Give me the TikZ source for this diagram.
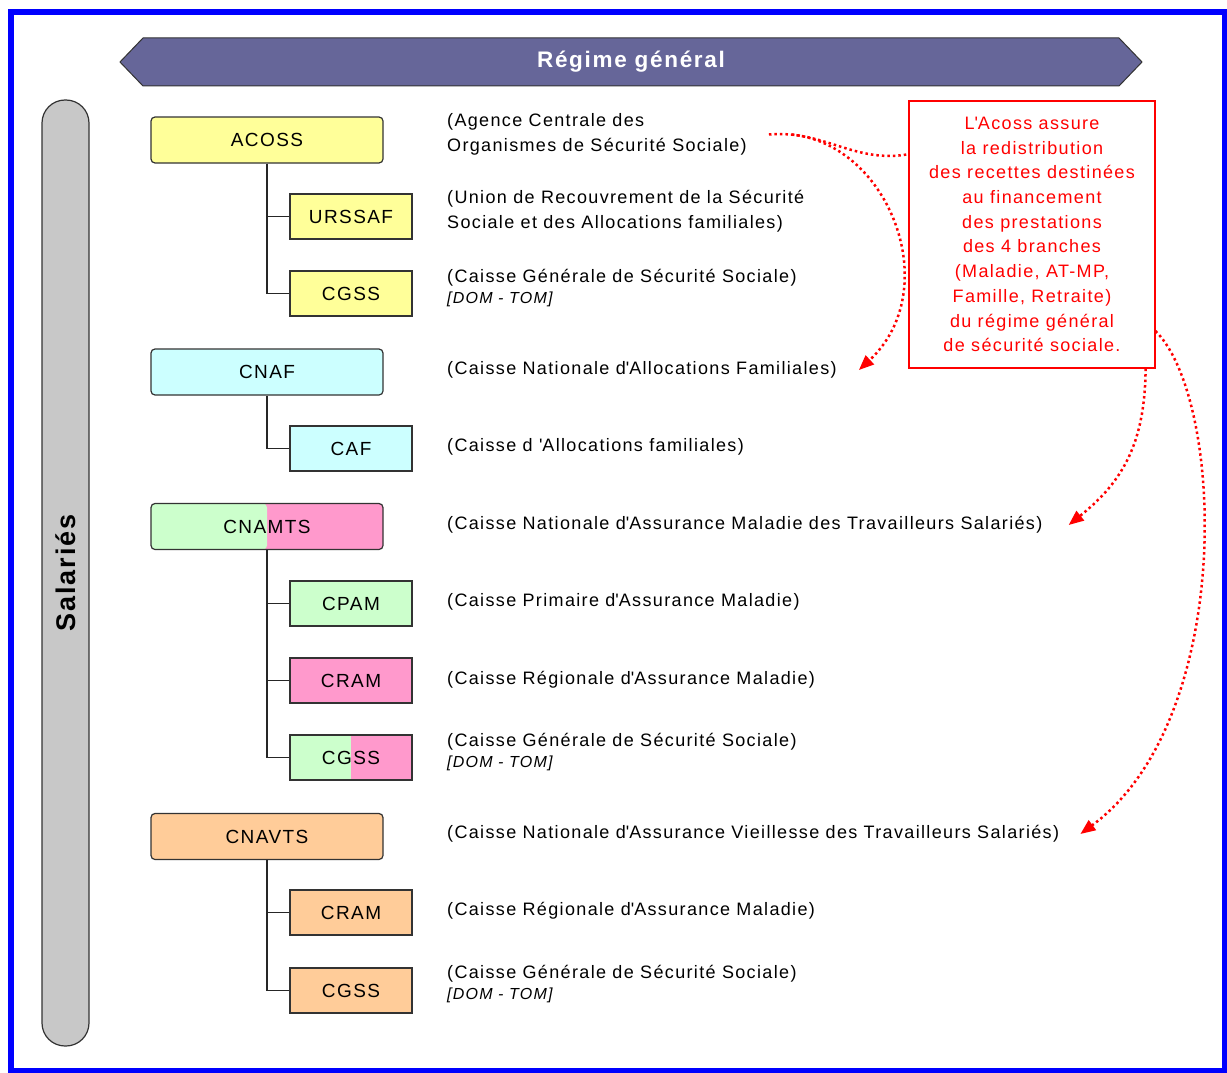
\documentclass[tikz,border=0pt]{standalone}
\usepackage{fontspec}
\setmainfont{Liberation Sans}[LetterSpace=7.5]
\usetikzlibrary{arrows.meta}

\definecolor{jaune}{HTML}{FFFF99}
\definecolor{ciel}{HTML}{CCFFFF}
\definecolor{vert}{HTML}{CCFFCC}
\definecolor{rose}{HTML}{FF99CC}
\definecolor{abricot}{HTML}{FFCC99}
\definecolor{bandeau}{HTML}{666699}
\definecolor{gris}{HTML}{C8C8C8}
\newcommand{\ap}{\textquotesingle}

\begin{document}
\begin{tikzpicture}[x=1pt, y=-1pt, font=\fontsize{18}{25}\selectfont,
  >={Triangle[length=15pt,width=12pt]},
  tete/.style={draw=black!80, line width=1.2pt, rounded corners=4pt, inner sep=0pt,
    minimum width=232pt, minimum height=46pt, font=\fontsize{19}{23}\selectfont},
  fille/.style={draw=black!80, line width=1.2pt, inner sep=0pt,
    minimum width=122pt, minimum height=45pt, font=\fontsize{19}{23}\selectfont},
  mixte/.style={fill=rose, path picture={\fill[vert] (path picture bounding box.south west) rectangle (path picture bounding box.north);}},
  desc/.style={anchor=west, align=left, inner sep=0pt},
  lien/.style={red, line width=2.5pt, dash pattern=on 2.5pt off 3pt},
  branche/.style={black!85, line width=1.2pt}]
\useasboundingbox (0,0) rectangle (1227,1073);
\draw[blue, line width=5.5pt] (11,12) rectangle (1224.5,1070.5);

% bandeau et colonne
\fill[bandeau, draw=black!80, line width=1pt] (120,62) -- (143,38) -- (1119,38) -- (1142,62) -- (1119,86) -- (143,86) -- cycle;
\node[text=white, font=\fontsize{22.5}{26}\selectfont\bfseries] (regime) at (631,62) {Régime général};
\node[draw=black!80, line width=1.2pt, fill=gris, rounded corners=23pt, rotate=90,
  minimum width=946pt, minimum height=47pt, font=\fontsize{27}{30}\selectfont\bfseries] (salaries) at (65.5,573) {Salariés};

% caisses
\node[tete, fill=jaune] (acoss) at (267,140) {ACOSS};
\node[fille, fill=jaune] (urssaf) at (351,216.5) {URSSAF};
\node[fille, fill=jaune] (cgssa) at (351,293.5) {CGSS};
\node[tete, fill=ciel] (cnaf) at (267,372) {CNAF};
\node[fille, fill=ciel] (caf) at (351,448.5) {CAF};
\node[tete, mixte] (cnamts) at (267,526.5) {CNAMTS};
\node[fille, fill=vert] (cpam) at (351,603.5) {CPAM};
\node[fille, fill=rose] (cramm) at (351,680.5) {CRAM};
\node[fille, mixte] (cgssm) at (351,757.5) {CGSS};
\node[tete, fill=abricot] (cnavts) at (267,836.5) {CNAVTS};
\node[fille, fill=abricot] (cramv) at (351,912.5) {CRAM};
\node[fille, fill=abricot] (cgssv) at (351,990.5) {CGSS};

\draw[branche] (acoss.south) |- (urssaf.west);
\draw[branche] (acoss.south) |- (cgssa.west);
\draw[branche] (cnaf.south) |- (caf.west);
\draw[branche] (cnamts.south) |- (cpam.west);
\draw[branche] (cnamts.south) |- (cramm.west);
\draw[branche] (cnamts.south) |- (cgssm.west);
\draw[branche] (cnavts.south) |- (cramv.west);
\draw[branche] (cnavts.south) |- (cgssv.west);

% libelles
\node[desc] (tacoss) at (447,134.5) {(Agence Centrale des\\Organismes de Sécurité Sociale)};
\node[desc] (turssaf) at (447,211.5) {(Union de Recouvrement de  la Sécurité\\Sociale et des  Allocations familiales)};
\node[desc] (tcgssa) at (447,288.5) {(Caisse Générale de Sécurité Sociale)\\[-4pt]{\fontsize{16}{18}\selectfont\itshape [DOM - TOM]}};
\node[desc] (tcnaf) at (447,370) {(Caisse Nationale d\ap Allocations Familiales)};
\node[desc] (tcaf) at (447,447) {(Caisse d \ap Allocations familiales)};
\node[desc] (tcnamts) at (447,525) {(Caisse Nationale d\ap Assurance Maladie des Travailleurs Salariés)};
\node[desc] (tcpam) at (447,602) {(Caisse Primaire d\ap Assurance Maladie)};
\node[desc] (tcramm) at (447,680) {(Caisse Régionale d\ap Assurance Maladie)};
\node[desc] (tcgssm) at (447,752.5) {(Caisse Générale de Sécurité Sociale)\\[-4pt]{\fontsize{16}{18}\selectfont\itshape [DOM - TOM]}};
\node[desc] (tcnavts) at (447,834) {(Caisse Nationale d\ap Assurance Vieillesse des Travailleurs Salariés)};
\node[desc] (tcramv) at (447,911) {(Caisse Régionale d\ap Assurance Maladie)};
\node[desc] (tcgssv) at (447,984.5) {(Caisse Générale de Sécurité Sociale)\\[-4pt]{\fontsize{16}{18}\selectfont\itshape [DOM - TOM]}};

% encadre rouge
\node[draw=red, line width=1.2pt, text=red, align=center, inner sep=0pt,
  minimum width=246pt, minimum height=267pt, font=\fontsize{18}{24.7}\selectfont] (note) at (1032,234.5)
  {L\ap Acoss assure\\la redistribution\\des recettes destinées\\au financement\\des prestations\\des 4 branches\\(Maladie, AT-MP,\\Famille, Retraite)\\du régime général\\de sécurité sociale.};

\draw[lien] ([xshift=22pt]tacoss.east) to[out=5, in=190] (note.147);
\draw[lien, ->] ([xshift=45pt]tacoss.east) .. controls (890,145) and (945,290) .. ([xshift=22pt]tcnaf.east);
\draw[lien, ->] ([xshift=-10pt]note.south east) .. controls (1145,440) and (1125,480) .. ([xshift=26pt]tcnamts.east);
\draw[lien, ->] (note.-38) .. controls (1225,400) and (1235,720) .. ([xshift=21pt]tcnavts.east);
\end{tikzpicture}
\end{document}
